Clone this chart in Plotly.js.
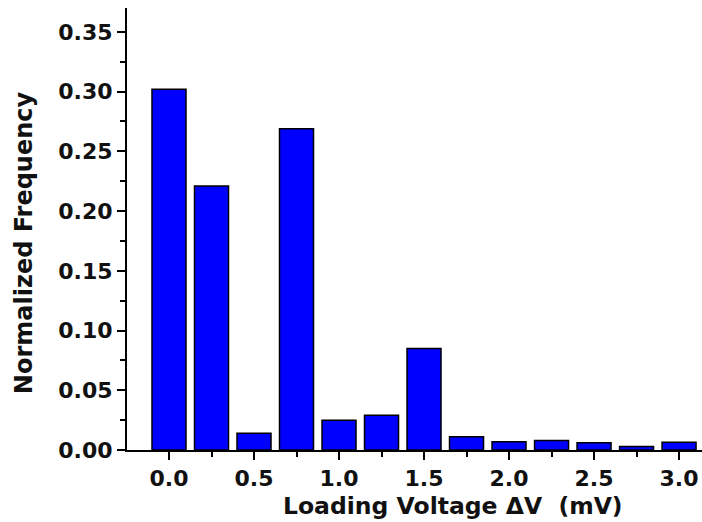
<!DOCTYPE html>
<html><head><meta charset="utf-8">
<script src="https://cdn.plot.ly/plotly-3.0.1.min.js"></script>
<style>html,body{margin:0;padding:0;background:#fff}</style>
</head><body>
<div id="chart" style="width:702px;height:522px"></div>
<script>
const voltages = [0.0, 0.25, 0.5, 0.75, 1.0, 1.25, 1.5, 1.75, 2.0, 2.25, 2.5, 2.75, 3.0];
const frequencies = [0.302, 0.221, 0.014, 0.269, 0.025, 0.029, 0.085, 0.011, 0.007, 0.008, 0.006, 0.003, 0.0065];
const xTickVals = [0, 0.5, 1.0, 1.5, 2.0, 2.5, 3.0];
const xTickText = ['0.0', '0.5', '1.0', '1.5', '2.0', '2.5', '3.0'];
const yTickVals = [0, 0.05, 0.10, 0.15, 0.20, 0.25, 0.30, 0.35];
const yTickText = ['0.00', '0.05', '0.10', '0.15', '0.20', '0.25', '0.30', '0.35'];
const xTitle = 'Loading Voltage \u0394V  (mV)';
const yTitle = 'Normalized Frequency';

const tickFont = {family: 'DejaVu Sans, sans-serif', size: 22, color: '#111', weight: 'bold'};
const xTitleFont = {family: 'DejaVu Sans, sans-serif', size: 23.5, color: '#111', weight: 'bold'};
const yTitleFont = {family: 'DejaVu Sans, sans-serif', size: 24, color: '#111', weight: 'bold'};

Plotly.newPlot('chart', [{
  type: 'bar', x: voltages, y: frequencies, width: 0.2,
  marker: {color: '#0000ff', line: {color: '#000', width: 1.5}}
}], {
  width: 702, height: 522,
  margin: {l: 127, r: 0, t: 8, b: 72},
  paper_bgcolor: '#fff', plot_bgcolor: '#fff',
  showlegend: false,
  font: tickFont,
  xaxis: {
    range: [-0.247, 3.135], tickvals: xTickVals, ticktext: xTickText,
    ticks: 'outside', ticklen: 8, tickwidth: 2, tickcolor: '#000',
    showline: true, linecolor: '#000', linewidth: 2, showgrid: false, zeroline: false,
    minor: {dtick: 0.25, tick0: 0, ticks: 'outside', ticklen: 5, tickwidth: 2, tickcolor: '#000', showgrid: false},
    tickfont: tickFont
  },
  yaxis: {
    range: [0, 0.370], tickvals: yTickVals, ticktext: yTickText,
    ticks: 'outside', ticklen: 8, tickwidth: 2, tickcolor: '#000',
    showline: true, linecolor: '#000', linewidth: 2, showgrid: false, zeroline: false,
    minor: {dtick: 0.025, tick0: 0, ticks: 'outside', ticklen: 5, tickwidth: 2, tickcolor: '#000', showgrid: false},
    tickfont: tickFont
  },
  annotations: [
    {text: xTitle, xref: 'paper', yref: 'paper', x: 0.567, y: 0, yshift: -40, yanchor: 'top', xanchor: 'center', showarrow: false, font: xTitleFont},
    {text: yTitle, xref: 'paper', yref: 'paper', x: 0, xshift: -103, y: 0.468, xanchor: 'center', yanchor: 'middle', textangle: -90, showarrow: false, font: yTitleFont}
  ]
}, {displayModeBar: false, staticPlot: true});
</script>
</body></html>
